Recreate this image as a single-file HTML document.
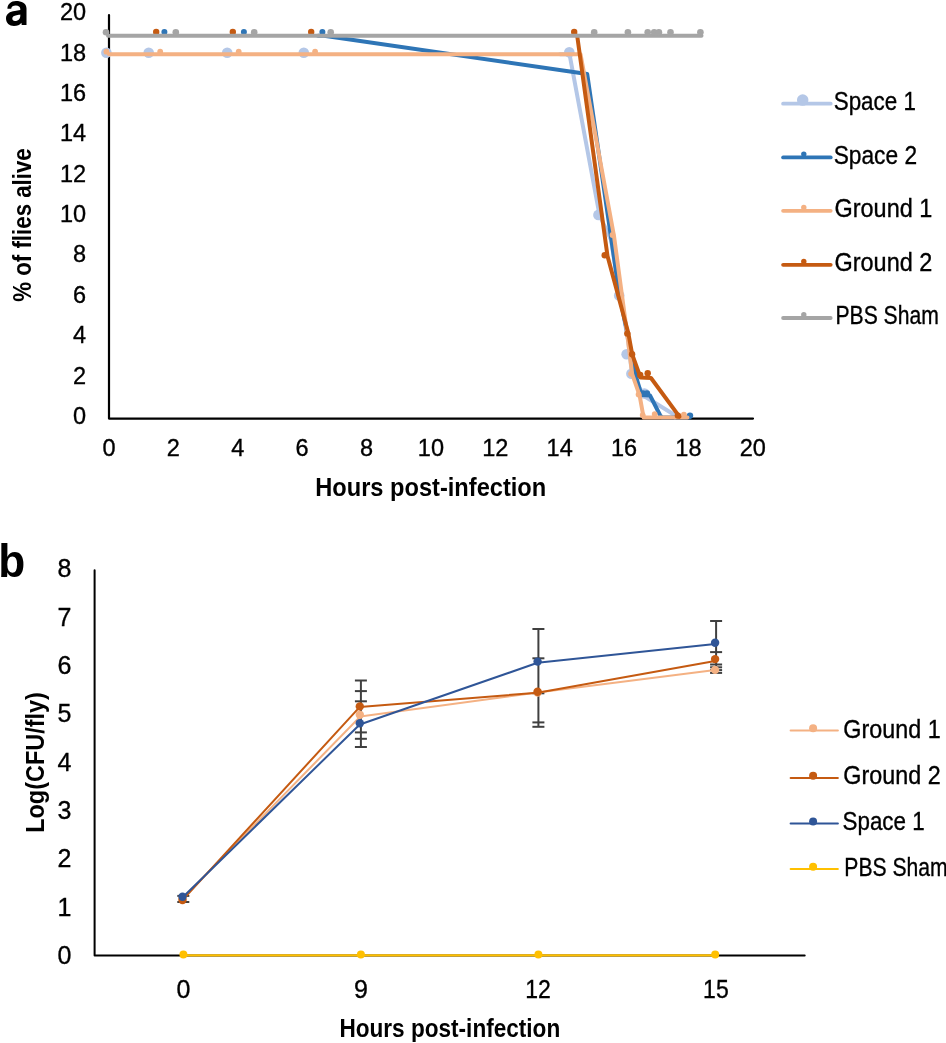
<!DOCTYPE html>
<html><head><meta charset="utf-8"><style>
html,body{margin:0;padding:0;background:#fff;}
svg{display:block;will-change:transform;}
text{font-family:"Liberation Sans", sans-serif;fill:#000;}
text.r{stroke:#000;stroke-width:0.35px;}
</style></head><body>
<svg width="946" height="1043" viewBox="0 0 946 1043">
<rect width="946" height="1043" fill="#fff"/>
<path d="M109,15 L109,418.6 L753,418.6" fill="none" stroke="#000" stroke-width="2.2" stroke-linejoin="round" stroke-linecap="round"/>
<path d="M94.6,570.2 L94.6,955.4 L804.7,955.4" fill="none" stroke="#000" stroke-width="2" stroke-linejoin="round" stroke-linecap="round"/>
<path fill="#000" fill-rule="evenodd" d="M7.4 8.7 C7.6 4.0 11.0 0.9 16.0 0.9 C21.5 0.9 26.5 3.0 26.5 8.5 L26.5 24.9 L21.7 24.9 L21.4 22.7 C19.8 24.9 17.2 26.0 14.0 26.0 C9.3 26.0 6.0 23.0 6.0 18.5 C6.0 13.5 10.0 11.5 14.8 10.9 L20.3 10.1 L20.3 9.0 C20.3 6.9 18.5 5.6 15.8 5.6 C13.0 5.6 11.5 6.8 11.2 8.7 Z M20.3 14.6 L20.3 16.0 C20.3 19.0 17.8 21.1 15.0 21.1 C13.3 21.1 12.3 20.1 12.3 18.6 C12.3 16.5 14.0 15.7 16.5 15.3 C18.3 15.0 19.5 14.9 20.3 14.6 Z"/>
<text transform="translate(86.10,424.00)" font-size="23.5" text-anchor="end" font-weight="normal" class="r">0</text>
<text transform="translate(86.10,383.62)" font-size="23.5" text-anchor="end" font-weight="normal" class="r">2</text>
<text transform="translate(86.10,343.24)" font-size="23.5" text-anchor="end" font-weight="normal" class="r">4</text>
<text transform="translate(86.10,302.86)" font-size="23.5" text-anchor="end" font-weight="normal" class="r">6</text>
<text transform="translate(86.10,262.48)" font-size="23.5" text-anchor="end" font-weight="normal" class="r">8</text>
<text transform="translate(86.10,222.10)" font-size="23.5" text-anchor="end" font-weight="normal" class="r">10</text>
<text transform="translate(86.10,181.72)" font-size="23.5" text-anchor="end" font-weight="normal" class="r">12</text>
<text transform="translate(86.10,141.34)" font-size="23.5" text-anchor="end" font-weight="normal" class="r">14</text>
<text transform="translate(86.10,100.96)" font-size="23.5" text-anchor="end" font-weight="normal" class="r">16</text>
<text transform="translate(86.10,60.58)" font-size="23.5" text-anchor="end" font-weight="normal" class="r">18</text>
<text transform="translate(86.10,20.20)" font-size="23.5" text-anchor="end" font-weight="normal" class="r">20</text>
<text transform="translate(109.00,456.30)" font-size="23.5" text-anchor="middle" font-weight="normal" class="r">0</text>
<text transform="translate(173.38,456.30)" font-size="23.5" text-anchor="middle" font-weight="normal" class="r">2</text>
<text transform="translate(237.76,456.30)" font-size="23.5" text-anchor="middle" font-weight="normal" class="r">4</text>
<text transform="translate(302.14,456.30)" font-size="23.5" text-anchor="middle" font-weight="normal" class="r">6</text>
<text transform="translate(366.52,456.30)" font-size="23.5" text-anchor="middle" font-weight="normal" class="r">8</text>
<text transform="translate(430.90,456.30)" font-size="23.5" text-anchor="middle" font-weight="normal" class="r">10</text>
<text transform="translate(495.28,456.30)" font-size="23.5" text-anchor="middle" font-weight="normal" class="r">12</text>
<text transform="translate(559.66,456.30)" font-size="23.5" text-anchor="middle" font-weight="normal" class="r">14</text>
<text transform="translate(624.04,456.30)" font-size="23.5" text-anchor="middle" font-weight="normal" class="r">16</text>
<text transform="translate(688.42,456.30)" font-size="23.5" text-anchor="middle" font-weight="normal" class="r">18</text>
<text transform="translate(752.80,456.30)" font-size="23.5" text-anchor="middle" font-weight="normal" class="r">20</text>
<text transform="translate(430.75,495.80) scale(0.9456,1)" font-size="25" text-anchor="middle" font-weight="bold">Hours post-infection</text>
<text transform="translate(31.30,225.00) rotate(-90) scale(0.8736,1)" font-size="25.5" text-anchor="middle" font-weight="bold">% of flies alive</text>
<polyline points="560.0,54.2 569.5,54.2 599.5,215.0 611.0,240.0 620.0,296.0 628.0,340.0 632.0,374.0 644.0,396.0 673.0,414.0 675.0,417.6" fill="none" stroke="#B4C7E7" stroke-width="4" stroke-linejoin="round" stroke-linecap="round" />
<circle cx="106.4" cy="52.8" r="5.3" fill="#B4C7E7"/>
<circle cx="148.7" cy="52.8" r="5.3" fill="#B4C7E7"/>
<circle cx="227.2" cy="52.8" r="5.3" fill="#B4C7E7"/>
<circle cx="303.8" cy="52.8" r="5.3" fill="#B4C7E7"/>
<circle cx="569.3" cy="52.3" r="5.3" fill="#B4C7E7"/>
<circle cx="598.4" cy="214.9" r="5.3" fill="#B4C7E7"/>
<circle cx="619.2" cy="295.6" r="5.3" fill="#B4C7E7"/>
<circle cx="626.6" cy="354.3" r="5.3" fill="#B4C7E7"/>
<circle cx="631.4" cy="373.8" r="5.3" fill="#B4C7E7"/>
<circle cx="644.4" cy="393.5" r="5.3" fill="#B4C7E7"/>
<polyline points="318.0,35.8 324.0,35.8 587.2,74.0 619.0,292.0 636.2,377.0 641.5,395.0 650.0,395.4 660.0,415.0 662.0,417.6 689.5,417.6" fill="none" stroke="#2E75B6" stroke-width="4" stroke-linejoin="round" stroke-linecap="round" />
<circle cx="164.4" cy="31.9" r="3" fill="#2E75B6"/>
<circle cx="243.9" cy="31.9" r="3" fill="#2E75B6"/>
<circle cx="322.4" cy="31.9" r="3" fill="#2E75B6"/>
<circle cx="690.0" cy="415.6" r="3.2" fill="#2E75B6"/>
<circle cx="643.0" cy="393.5" r="3.2" fill="#2E75B6"/>
<circle cx="647.0" cy="393.5" r="3.2" fill="#2E75B6"/>
<polyline points="109.0,54.2 580.5,54.2 614.0,236.0 628.0,340.0 632.2,374.2 639.6,395.4 643.6,417.6 687.5,417.6" fill="none" stroke="#F4B183" stroke-width="4" stroke-linejoin="round" stroke-linecap="round" />
<circle cx="106.4" cy="51.7" r="2.9" fill="#F4B183"/>
<circle cx="160.2" cy="51.7" r="2.9" fill="#F4B183"/>
<circle cx="238.7" cy="51.7" r="2.9" fill="#F4B183"/>
<circle cx="315.1" cy="51.7" r="2.9" fill="#F4B183"/>
<circle cx="612.5" cy="235.0" r="2.9" fill="#F4B183"/>
<circle cx="631.1" cy="373.8" r="2.9" fill="#F4B183"/>
<circle cx="638.6" cy="394.5" r="2.9" fill="#F4B183"/>
<circle cx="642.7" cy="415.1" r="2.9" fill="#F4B183"/>
<circle cx="654.7" cy="414.1" r="2.9" fill="#F4B183"/>
<circle cx="683.9" cy="414.6" r="2.9" fill="#F4B183"/>
<polyline points="577.2,35.8 607.5,255.9 628.3,333.0 632.2,354.3 640.5,377.5 651.0,378.0 679.4,416.6" fill="none" stroke="#C55A11" stroke-width="4" stroke-linejoin="round" stroke-linecap="round" />
<circle cx="156.2" cy="31.9" r="3.2" fill="#C55A11"/>
<circle cx="232.8" cy="31.9" r="3.2" fill="#C55A11"/>
<circle cx="311.2" cy="31.9" r="3.2" fill="#C55A11"/>
<circle cx="574.2" cy="31.9" r="3.2" fill="#C55A11"/>
<circle cx="604.7" cy="255.2" r="3.2" fill="#C55A11"/>
<circle cx="627.3" cy="333.6" r="3.2" fill="#C55A11"/>
<circle cx="632.1" cy="354.2" r="3.2" fill="#C55A11"/>
<circle cx="640.2" cy="375.0" r="3.2" fill="#C55A11"/>
<circle cx="647.7" cy="373.3" r="3.2" fill="#C55A11"/>
<circle cx="677.9" cy="415.6" r="3.2" fill="#C55A11"/>
<polyline points="108.0,35.8 701.5,35.8" fill="none" stroke="#A5A5A5" stroke-width="4" stroke-linejoin="round" stroke-linecap="round" />
<circle cx="106.0" cy="32.3" r="3.3" fill="#A5A5A5"/>
<circle cx="175.8" cy="32.3" r="3.3" fill="#A5A5A5"/>
<circle cx="254.2" cy="32.3" r="3.3" fill="#A5A5A5"/>
<circle cx="330.7" cy="32.3" r="3.3" fill="#A5A5A5"/>
<circle cx="594.2" cy="32.3" r="3.3" fill="#A5A5A5"/>
<circle cx="627.9" cy="32.3" r="3.3" fill="#A5A5A5"/>
<circle cx="647.7" cy="32.3" r="3.3" fill="#A5A5A5"/>
<circle cx="654.2" cy="32.3" r="3.3" fill="#A5A5A5"/>
<circle cx="658.9" cy="32.3" r="3.3" fill="#A5A5A5"/>
<circle cx="670.5" cy="32.3" r="3.3" fill="#A5A5A5"/>
<circle cx="700.4" cy="32.3" r="3.3" fill="#A5A5A5"/>
<polyline points="783.1,103.7 830.7,103.7" fill="none" stroke="#B4C7E7" stroke-width="3.8" stroke-linejoin="round" stroke-linecap="round" />
<circle cx="802.7" cy="100.1" r="5.75" fill="#B4C7E7"/>
<text transform="translate(833.71,110.10) scale(0.8955,1)" font-size="25" text-anchor="start" font-weight="normal" class="r">Space 1</text>
<polyline points="783.1,157.4 830.7,157.4" fill="none" stroke="#2E75B6" stroke-width="3.8" stroke-linejoin="round" stroke-linecap="round" />
<circle cx="803.8" cy="154.1" r="2.7" fill="#2E75B6"/>
<text transform="translate(833.68,163.50) scale(0.9090,1)" font-size="25" text-anchor="start" font-weight="normal" class="r">Space 2</text>
<polyline points="783.1,210.8 830.7,210.8" fill="none" stroke="#F4B183" stroke-width="3.8" stroke-linejoin="round" stroke-linecap="round" />
<circle cx="803.8" cy="207.5" r="2.7" fill="#F4B183"/>
<text transform="translate(834.56,217.30) scale(0.9380,1)" font-size="25" text-anchor="start" font-weight="normal" class="r">Ground 1</text>
<polyline points="783.1,264.8 830.7,264.8" fill="none" stroke="#C55A11" stroke-width="3.8" stroke-linejoin="round" stroke-linecap="round" />
<circle cx="803.8" cy="261.5" r="2.7" fill="#C55A11"/>
<text transform="translate(834.56,271.20) scale(0.9380,1)" font-size="25" text-anchor="start" font-weight="normal" class="r">Ground 2</text>
<polyline points="783.1,318.0 830.7,318.0" fill="none" stroke="#A5A5A5" stroke-width="3.8" stroke-linejoin="round" stroke-linecap="round" />
<circle cx="803.8" cy="314.7" r="2.7" fill="#A5A5A5"/>
<text transform="translate(835.50,324.30) scale(0.8450,1)" font-size="25" text-anchor="start" font-weight="normal" class="r">PBS Sham</text>
<text transform="translate(11.65,576.50) scale(0.9400,1)" font-size="47" text-anchor="middle" font-weight="bold">b</text>
<text transform="translate(71.50,964.20)" font-size="25" text-anchor="end" font-weight="normal" class="r">0</text>
<text transform="translate(71.50,915.82)" font-size="25" text-anchor="end" font-weight="normal" class="r">1</text>
<text transform="translate(71.50,867.44)" font-size="25" text-anchor="end" font-weight="normal" class="r">2</text>
<text transform="translate(71.50,819.06)" font-size="25" text-anchor="end" font-weight="normal" class="r">3</text>
<text transform="translate(71.50,770.68)" font-size="25" text-anchor="end" font-weight="normal" class="r">4</text>
<text transform="translate(71.50,722.30)" font-size="25" text-anchor="end" font-weight="normal" class="r">5</text>
<text transform="translate(71.50,673.92)" font-size="25" text-anchor="end" font-weight="normal" class="r">6</text>
<text transform="translate(71.50,625.54)" font-size="25" text-anchor="end" font-weight="normal" class="r">7</text>
<text transform="translate(71.50,577.16)" font-size="25" text-anchor="end" font-weight="normal" class="r">8</text>
<text transform="translate(183.40,998.00)" font-size="25" text-anchor="middle" font-weight="normal" class="r">0</text>
<text transform="translate(361.00,998.00)" font-size="25" text-anchor="middle" font-weight="normal" class="r">9</text>
<text transform="translate(538.10,998.00) scale(0.9200,1)" font-size="25" text-anchor="middle" font-weight="normal" class="r">12</text>
<text transform="translate(715.90,998.00) scale(0.9200,1)" font-size="25" text-anchor="middle" font-weight="normal" class="r">15</text>
<text transform="translate(449.80,1037.00) scale(0.8860,1)" font-size="25.5" text-anchor="middle" font-weight="bold">Hours post-infection</text>
<text transform="translate(43.80,762.45) rotate(-90) scale(0.9390,1)" font-size="25" text-anchor="middle" font-weight="bold">Log(CFU/fly)</text>
<line x1="183.3" y1="895.9" x2="183.3" y2="902" stroke="#404040" stroke-width="2"/>
<line x1="177.3" y1="895.9" x2="189.3" y2="895.9" stroke="#404040" stroke-width="2"/>
<line x1="177.3" y1="902" x2="189.3" y2="902" stroke="#404040" stroke-width="2"/>
<line x1="360.9" y1="680.5" x2="360.9" y2="747.0" stroke="#404040" stroke-width="2"/>
<line x1="354.9" y1="680.5" x2="366.9" y2="680.5" stroke="#404040" stroke-width="2"/>
<line x1="354.9" y1="691.1" x2="366.9" y2="691.1" stroke="#404040" stroke-width="2"/>
<line x1="354.9" y1="701.3" x2="366.9" y2="701.3" stroke="#404040" stroke-width="2"/>
<line x1="354.9" y1="732.4" x2="366.9" y2="732.4" stroke="#404040" stroke-width="2"/>
<line x1="354.9" y1="738.8" x2="366.9" y2="738.8" stroke="#404040" stroke-width="2"/>
<line x1="354.9" y1="747.0" x2="366.9" y2="747.0" stroke="#404040" stroke-width="2"/>
<line x1="538.4" y1="629" x2="538.4" y2="726.8" stroke="#404040" stroke-width="2"/>
<line x1="532.4" y1="629" x2="544.4" y2="629" stroke="#404040" stroke-width="2"/>
<line x1="532.4" y1="658.3" x2="544.4" y2="658.3" stroke="#404040" stroke-width="2"/>
<line x1="532.4" y1="693.3" x2="544.4" y2="693.3" stroke="#404040" stroke-width="2"/>
<line x1="532.4" y1="722.4" x2="544.4" y2="722.4" stroke="#404040" stroke-width="2"/>
<line x1="532.4" y1="726.8" x2="544.4" y2="726.8" stroke="#404040" stroke-width="2"/>
<line x1="716.1" y1="621" x2="716.1" y2="672.9" stroke="#404040" stroke-width="2"/>
<line x1="710.1" y1="621" x2="722.1" y2="621" stroke="#404040" stroke-width="2"/>
<line x1="710.1" y1="652.1" x2="722.1" y2="652.1" stroke="#404040" stroke-width="2"/>
<line x1="710.1" y1="664.5" x2="722.1" y2="664.5" stroke="#404040" stroke-width="2"/>
<line x1="710.1" y1="667.3" x2="722.1" y2="667.3" stroke="#404040" stroke-width="2"/>
<line x1="710.1" y1="670.1" x2="722.1" y2="670.1" stroke="#404040" stroke-width="2"/>
<line x1="710.1" y1="672.9" x2="722.1" y2="672.9" stroke="#404040" stroke-width="2"/>
<polyline points="182.5,898.5 360.3,716.5 537.6,692.5 715.1,669.9" fill="none" stroke="#F4B183" stroke-width="2" stroke-linejoin="round" stroke-linecap="round" />
<circle cx="182.5" cy="898.5" r="4.2" fill="#F4B183"/>
<circle cx="359.8" cy="714.8" r="4.2" fill="#F4B183"/>
<circle cx="537.6" cy="692.5" r="4.2" fill="#F4B183"/>
<circle cx="715.1" cy="669.9" r="4.2" fill="#F4B183"/>
<polyline points="182.5,900.1 359.8,706.9 537.6,692.7 715.1,661.0" fill="none" stroke="#C55A11" stroke-width="2" stroke-linejoin="round" stroke-linecap="round" />
<circle cx="182.5" cy="900.1" r="4.2" fill="#C55A11"/>
<circle cx="359.8" cy="706.4" r="4.2" fill="#C55A11"/>
<circle cx="537.6" cy="691.7" r="4.2" fill="#C55A11"/>
<circle cx="715.1" cy="659.1" r="4.2" fill="#C55A11"/>
<polyline points="182.2,897.8 359.8,724.5 537.6,662.8 715.1,644.0" fill="none" stroke="#2F5597" stroke-width="2" stroke-linejoin="round" stroke-linecap="round" />
<circle cx="182.5" cy="896.7" r="4.2" fill="#2F5597"/>
<circle cx="359.8" cy="723.3" r="4.2" fill="#2F5597"/>
<circle cx="537.6" cy="661.6" r="4.2" fill="#2F5597"/>
<circle cx="715.1" cy="642.8" r="4.2" fill="#2F5597"/>
<polyline points="183.4,955.4 360.9,955.4 538.4,955.4 715.2,955.4" fill="none" stroke="#FFC000" stroke-width="2.4" stroke-linejoin="round" stroke-linecap="round" />
<circle cx="183.4" cy="954.6" r="4" fill="#FFC000"/>
<circle cx="360.9" cy="954.6" r="4" fill="#FFC000"/>
<circle cx="538.4" cy="954.6" r="4" fill="#FFC000"/>
<circle cx="715.2" cy="954.6" r="4" fill="#FFC000"/>
<polyline points="790.6,730.5 837.9,730.5" fill="none" stroke="#F4B183" stroke-width="2" stroke-linejoin="round" stroke-linecap="round" />
<circle cx="813.1" cy="728.3" r="4" fill="#F4B183"/>
<text transform="translate(843.37,738.00) scale(0.9340,1)" font-size="25" text-anchor="start" font-weight="normal" class="r">Ground 1</text>
<polyline points="790.6,778.0 837.9,778.0" fill="none" stroke="#C55A11" stroke-width="2" stroke-linejoin="round" stroke-linecap="round" />
<circle cx="813.1" cy="775.8" r="4" fill="#C55A11"/>
<text transform="translate(843.37,783.50) scale(0.9340,1)" font-size="25" text-anchor="start" font-weight="normal" class="r">Ground 2</text>
<polyline points="790.6,823.6 837.9,823.6" fill="none" stroke="#2F5597" stroke-width="2" stroke-linejoin="round" stroke-linecap="round" />
<circle cx="813.1" cy="821.4" r="4" fill="#2F5597"/>
<text transform="translate(842.51,830.30) scale(0.8955,1)" font-size="25" text-anchor="start" font-weight="normal" class="r">Space 1</text>
<polyline points="790.6,868.9 837.9,868.9" fill="none" stroke="#FFC000" stroke-width="2" stroke-linejoin="round" stroke-linecap="round" />
<circle cx="813.1" cy="866.7" r="4" fill="#FFC000"/>
<text transform="translate(844.30,876.40) scale(0.8450,1)" font-size="25" text-anchor="start" font-weight="normal" class="r">PBS Sham</text>
</svg>
</body></html>
